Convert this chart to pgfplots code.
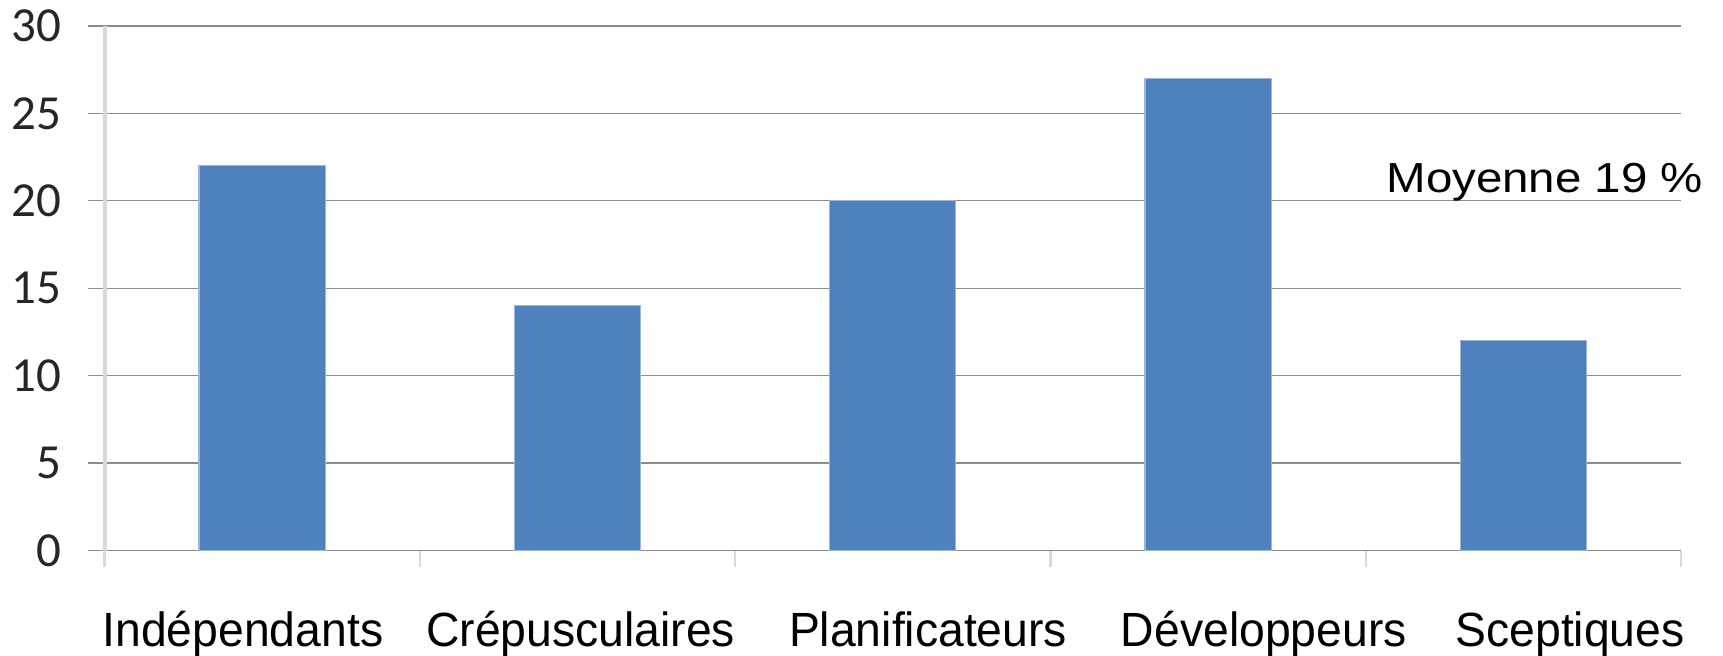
\documentclass[border=0pt]{standalone}
\usepackage{pgfplots}
\pgfplotsset{compat=1.18}
\usepackage{fontspec}
\setmainfont{Liberation Sans}
\newfontfamily\carlito{Carlito}
\newfontfamily\wideArial[FakeStretch=1.13]{Liberation Sans}
\newfontfamily\narrowArial[FakeStretch=0.965]{Liberation Sans}
\definecolor{barblue}{HTML}{4F81BD}
\definecolor{baredge}{HTML}{9DB7DB}
\definecolor{gridgray}{HTML}{8C8C8C}
\definecolor{axisgray}{HTML}{D9D9D9}
\begin{document}
\begin{tikzpicture}
\path[use as bounding box] (0,0) rectangle (861.5pt,327.5pt);
\begin{axis}[
  at={(52.25pt,52.25pt)}, anchor=south west,
  scale only axis,
  width=788.25pt, height=262.25pt,
  xmin=-0.5, xmax=4.5, ymin=0, ymax=30,
  clip=false,
  axis x line*=bottom, axis y line*=left,
  x axis line style={-, draw=gridgray, line width=0.6pt},
  y axis line style={-, draw=axisgray, line width=2pt},
  tick align=outside,
  major tick length=8.25pt,
  xtick={-0.5,0.5,1.5,2.5,3.5,4.5},
  xticklabels={},
  x tick style={draw=axisgray, line width=1.2pt},
  ytick={0,5,...,30},
  y tick style={draw=gridgray, line width=0.6pt},
  ymajorgrids,
  grid style={draw=gridgray, line width=0.6pt},
  yticklabel style={anchor=east, inner sep=0pt, xshift=-13pt, font=\carlito\fontsize{24.5}{24.5}\selectfont, color=black!85},
  /pgf/number format/assume math mode=true,
  ybar, bar width=0.4,
]
\addplot[fill=barblue, draw=baredge, line width=0.6pt] coordinates {(0,22) (1,14) (2,20) (3,27) (4,12)};
\node[anchor=base, inner sep=0pt, font=\narrowArial\fontsize{24}{24}\selectfont] at (axis cs:-0.061,0) [yshift=-47.75pt] {Indépendants};
\node[anchor=base, inner sep=0pt, font=\narrowArial\fontsize{24}{24}\selectfont] at (axis cs:1.010,0) [yshift=-47.75pt] {Crépusculaires};
\node[anchor=base, inner sep=0pt, font=\narrowArial\fontsize{24}{24}\selectfont] at (axis cs:2.112,0) [yshift=-47.75pt] {Planificateurs};
\node[anchor=base, inner sep=0pt, font=\narrowArial\fontsize{24}{24}\selectfont] at (axis cs:3.177,0) [yshift=-47.75pt] {Développeurs};
\node[anchor=base, inner sep=0pt, font=\narrowArial\fontsize{24}{24}\selectfont] at (axis cs:4.148,0) [yshift=-47.75pt] {Sceptiques};
\node[anchor=base, inner sep=0pt, font=\wideArial\fontsize{21}{21}\selectfont] at (axis cs:4.068,20.465) {Moyenne 19 \%};
\end{axis}
\end{tikzpicture}
\end{document}
